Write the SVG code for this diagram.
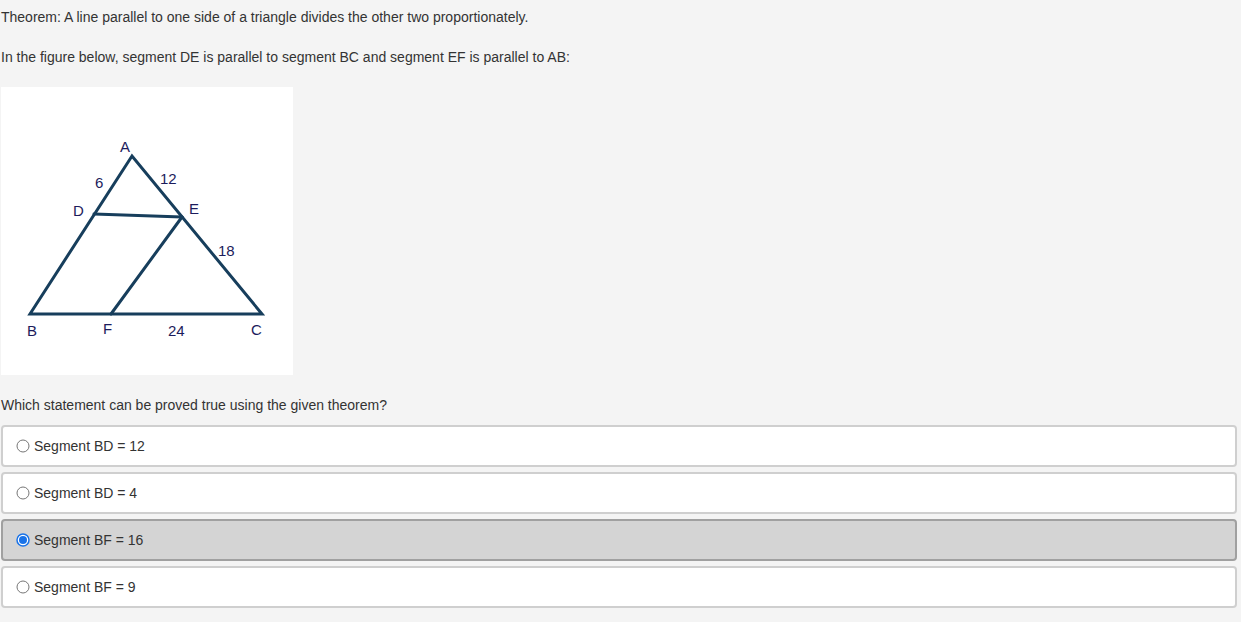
<svg xmlns="http://www.w3.org/2000/svg" width="1241" height="622" viewBox="0 0 1241 622">
<style>
.t{font-family:"Liberation Sans",Arial,sans-serif;font-size:14px;fill:#333}
.lbl{font-family:"Liberation Sans",Arial,sans-serif;font-size:15px;fill:#1c1c5c}
.opt{fill:#fff;stroke:#cfcfcf;stroke-width:2}
.sel{fill:#d4d4d4;stroke:#a0a0a0;stroke-width:2}
.seg{stroke:#173e5c;stroke-width:3;stroke-linecap:round;fill:none}
.radio{fill:#fff;stroke:#767676;stroke-width:1}
</style>
<rect width="1241" height="622" fill="#f4f4f4"/>
<text class="t" x="1" y="22">Theorem: A line parallel to one side of a triangle divides the other two proportionately.</text>
<text class="t" x="1" y="62">In the figure below, segment DE is parallel to segment BC and segment EF is parallel to AB:</text>
<g id="figure">
<rect x="1" y="87" width="292" height="288" fill="#fff"/>
<g id="connectors">
<path class="seg" d="M132,156 L30,314 L262,314 Z"/>
<path class="seg" d="M94,214 L182,217"/>
<path class="seg" d="M182,217 L111,314"/>
</g>
<g id="labels">
<text class="lbl" x="120" y="152">A</text>
<text class="lbl" x="95" y="188">6</text>
<text class="lbl" x="160" y="184">12</text>
<text class="lbl" x="73" y="216">D</text>
<text class="lbl" x="189" y="214">E</text>
<text class="lbl" x="218" y="256">18</text>
<text class="lbl" x="27" y="336">B</text>
<text class="lbl" x="103" y="334">F</text>
<text class="lbl" x="168" y="336">24</text>
<text class="lbl" x="251" y="335">C</text>
</g>
</g>
<text class="t" x="1" y="410">Which statement can be proved true using the given theorem?</text>
<g id="opt1"><rect class="opt" x="2" y="426" width="1234" height="40" rx="3"/><circle class="radio" cx="23" cy="446" r="6"/><text class="t" x="34" y="451">Segment BD = 12</text></g>
<g id="opt2"><rect class="opt" x="2" y="473" width="1234" height="40" rx="3"/><circle class="radio" cx="23" cy="493" r="6"/><text class="t" x="34" y="498">Segment BD = 4</text></g>
<g id="opt3"><rect class="sel" x="2" y="520" width="1234" height="40" rx="3"/><circle cx="23" cy="540" r="6" fill="#fff" stroke="#1a73e8" stroke-width="1.5"/><circle cx="23" cy="540" r="4" fill="#1a73e8"/><text class="t" x="34" y="545">Segment BF = 16</text></g>
<g id="opt4"><rect class="opt" x="2" y="567" width="1234" height="40" rx="3"/><circle class="radio" cx="23" cy="587" r="6"/><text class="t" x="34" y="592">Segment BF = 9</text></g>
</svg>
